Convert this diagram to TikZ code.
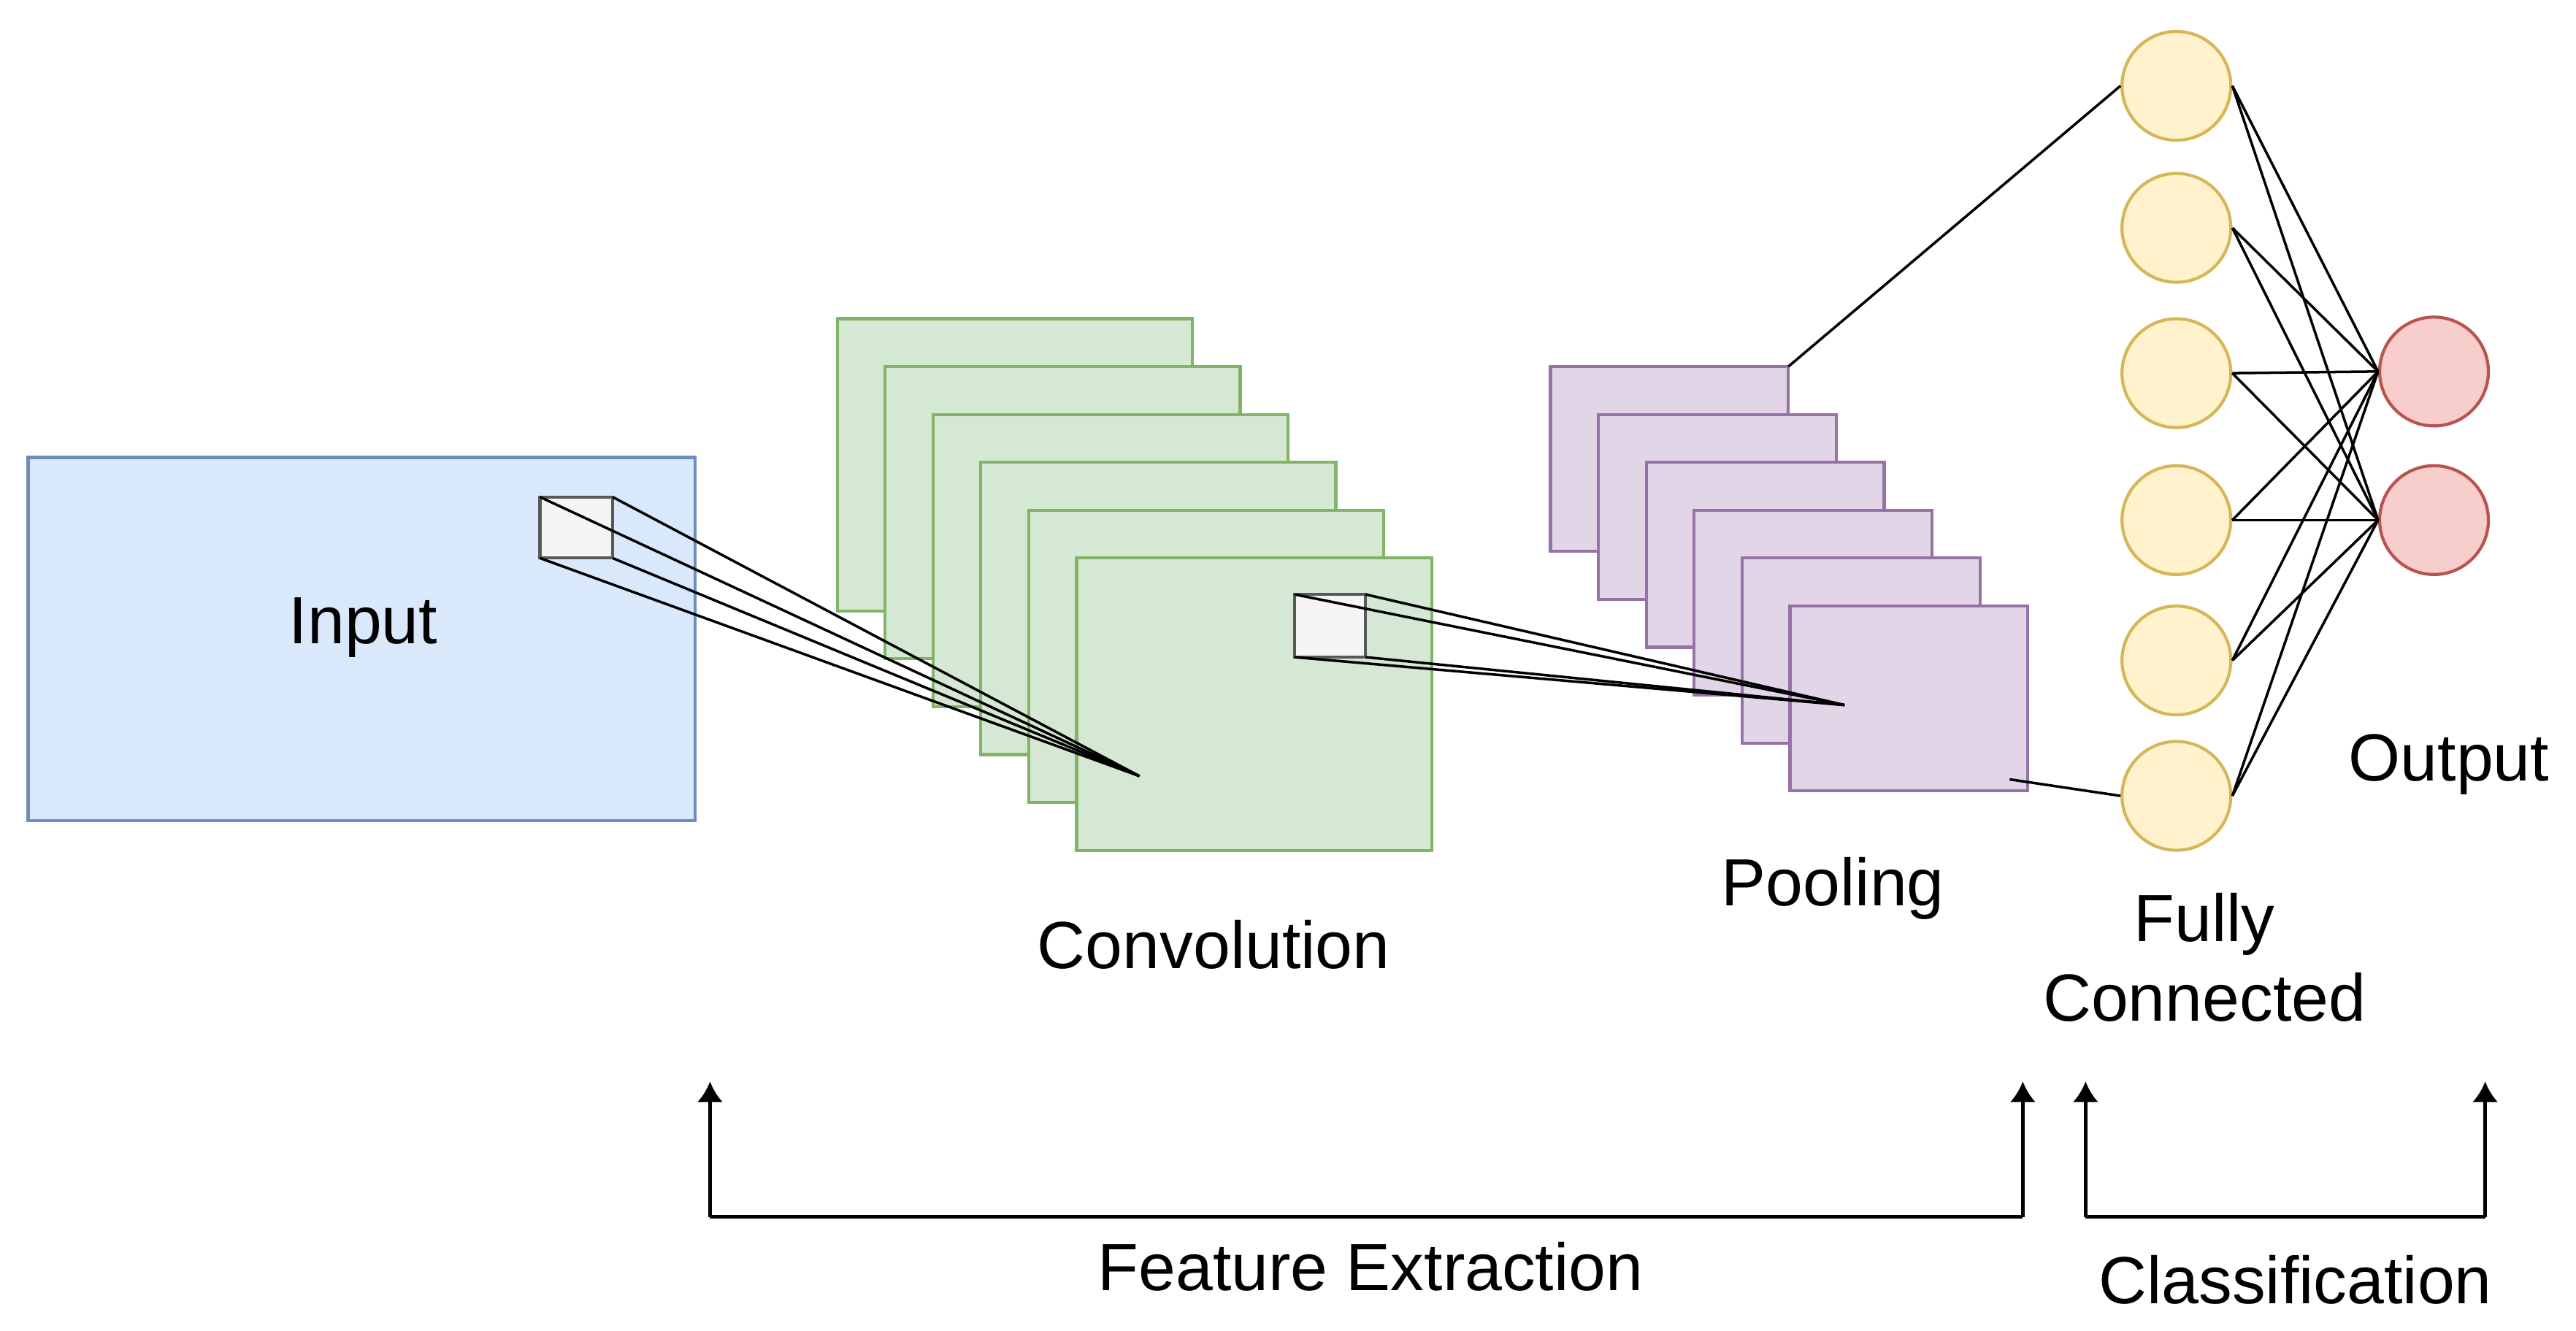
\documentclass[tikz,border=0pt]{standalone}
\usepackage{fontspec}
\setmainfont{Liberation Sans}
\usetikzlibrary{arrows.meta}
\begin{document}
\begin{tikzpicture}[x=0.022615cm,y=-0.022615cm,
  lbl/.style={font=\fontsize{26}{31}\selectfont, align=center},
  conv/.style={fill={rgb,255:red,213;green,232;blue,212}, draw={rgb,255:red,130;green,179;blue,102}, line width=1.2pt},
  pool/.style={fill={rgb,255:red,225;green,213;blue,231}, draw={rgb,255:red,150;green,115;blue,166}, line width=1.2pt},
  fcn/.style={circle, minimum size=1.49cm, inner sep=0pt, fill={rgb,255:red,255;green,242;blue,204}, draw={rgb,255:red,214;green,182;blue,86}, line width=1.2pt},
  outn/.style={circle, minimum size=1.49cm, inner sep=0pt, fill={rgb,255:red,248;green,206;blue,204}, draw={rgb,255:red,184;green,84;blue,80}, line width=1.2pt},
  ln/.style={black, line width=1pt},
  arr/.style={-{Latex[length=8pt,width=10pt]}, line width=1.3pt}]
\useasboundingbox (0,0) rectangle (1560,806);
\definecolor{inpfill}{RGB}{218,232,252}\definecolor{inpdraw}{RGB}{108,142,191}
% input
\draw[fill=inpfill, draw=inpdraw, line width=1.2pt] (17,277) rectangle (421,497);
\node[lbl] (input) at (220,380) {Input};
% conv
\foreach \i in {0,...,5}{
  \draw[conv] (507+29*\i,193+29*\i) rectangle (722+29*\i,370+29*\i);}
\node[lbl] (convl) at (735,572) {Convolution};
% pooling
\foreach \i in {0,...,5}{
  \draw[pool] (939+29*\i,222+29*\i) rectangle (1083+29*\i,334+29*\i);}
\node[lbl] (pooll) at (1110,538) {Pooling};
% kernel 1
\coordinate (a1) at (690,470);
\draw[fill=gray!8, draw=gray!70!black, line width=1.2pt] (327,301) rectangle (371,338);
\foreach \p in {(327,301),(371,301),(327,338),(371,338)} \draw[ln] \p -- (a1);
% kernel 2
\coordinate (a2) at (1117,427);
\draw[fill=gray!8, draw=gray!70!black, line width=1.2pt] (784,360) rectangle (827,398);
\foreach \p in {(784,360),(827,360),(784,398),(827,398)} \draw[ln] \p -- (a2);
% FC
\foreach \y [count=\k] in {52,138,226,315,400,482}
  \node[fcn] (f\k) at (1318,\y) {};
\node[outn] (o1) at (1474,225) {};
\node[outn] (o2) at (1474,315) {};
\foreach \k in {1,...,6}{
  \draw[ln] (f\k.east) -- (o1.west);
  \draw[ln] (f\k.east) -- (o2.west);}
\coordinate (p1) at (1083,222);
\coordinate (p2) at (1217,472);
\draw[ln] (p1) -- (f1.west);
\draw[ln] (p2) -- (f6.west);
\node[lbl] (fcl) at (1335,580) {Fully\\Connected};
\node[lbl] (outl) at (1483,463) {Output};
% bottom arrows
\coordinate (b1) at (430,737); \coordinate (t1) at (430,655);
\coordinate (b2) at (1225,737); \coordinate (t2) at (1225,655);
\coordinate (b3) at (1263,737); \coordinate (t3) at (1263,655);
\coordinate (b4) at (1505,737); \coordinate (t4) at (1505,655);
\draw[line width=1.3pt] (b1) -- (b2);
\draw[line width=1.3pt] (b3) -- (b4);
\foreach \i in {1,...,4} \draw[arr] (b\i) -- (t\i);
\node[lbl] (fe) at (830,767) {Feature Extraction};
\node[lbl] (cl) at (1390,775) {Classification};
\end{tikzpicture}
\end{document}
